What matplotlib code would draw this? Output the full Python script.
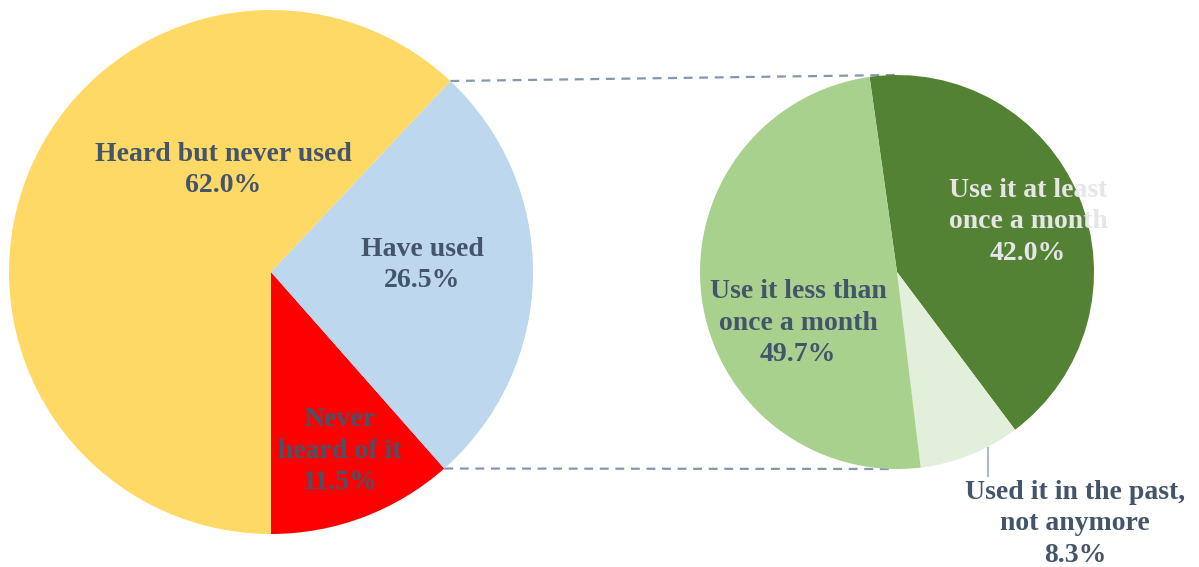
import numpy as np
import matplotlib.pyplot as plt

# Awareness of the service (main pie) and how often users use it (sub pie)
main_labels = ["Never\nheard of it", "Have used", "Heard but never used"]
main_values = [11.5, 26.5, 62.0]
main_colors = ["#FF0000", "#BDD7EE", "#FFD966"]

sub_labels = ["Use it at least\nonce a month", "Used it in the past,\nnot anymore",
              "Use it less than\nonce a month"]
sub_values = [42.0, 8.3, 49.7]
sub_colors = ["#548235", "#E2EFDA", "#A9D18E"]

W, H = 1199, 567
TEXT = "#44546A"
LIGHT_TEXT = "#E7E6E6"
FONT = ["Liberation Serif", "DejaVu Serif"]

fig = plt.figure(figsize=(W / 100, H / 100), dpi=100)
ax = fig.add_axes([0, 0, 1, 1])

# pixel-like coordinates, y pointing up
c1, r1 = (271, H - 272), 262
c2, r2 = (897, H - 272), 197

w1, _ = ax.pie(main_values, colors=main_colors, startangle=-90, counterclock=True,
               center=c1, radius=r1, wedgeprops=dict(linewidth=0))
w2, _ = ax.pie(sub_values, colors=sub_colors, startangle=98, counterclock=False,
               center=c2, radius=r2, wedgeprops=dict(linewidth=0))

ax.set_xlim(0, W)
ax.set_ylim(0, H)
ax.set_aspect("equal")
ax.axis("off")

# dashed connectors from the "Have used" wedge to the sub pie
have = w1[1]
for ang, y_end in [(have.theta2, c2[1] + r2), (have.theta1, c2[1] - r2)]:
    x0 = c1[0] + r1 * np.cos(np.radians(ang))
    y0 = c1[1] + r1 * np.sin(np.radians(ang))
    ax.plot([x0, 895], [y0, y_end], ls=(0, (4, 3)), color="#8497B0", lw=1.6, zorder=0)

fs = 20
kw = dict(ha="center", va="center", fontsize=fs, fontweight="bold",
          family=FONT, linespacing=1.36)

main_pos = [(340, H - 451), (422, H - 265), (223, H - 170)]
for lab, val, (x, y) in zip(main_labels, main_values, main_pos):
    ax.text(x, y, f"{lab}\n{val:.1f}%", color=TEXT, **kw)

sub_pos = [(1028, H - 222), (1075, H - 524), (798, H - 323)]
sub_text_colors = [LIGHT_TEXT, TEXT, TEXT]
for lab, val, (x, y), col in zip(sub_labels, sub_values, sub_pos, sub_text_colors):
    ax.text(x, y, f"{lab}\n{val:.1f}%", color=col, **kw)

# leader line for the small slice
ax.plot([988, 988], [H - 448, H - 476], color="#ADB9CA", lw=1.5)

fig.savefig("out.png", dpi=100)
